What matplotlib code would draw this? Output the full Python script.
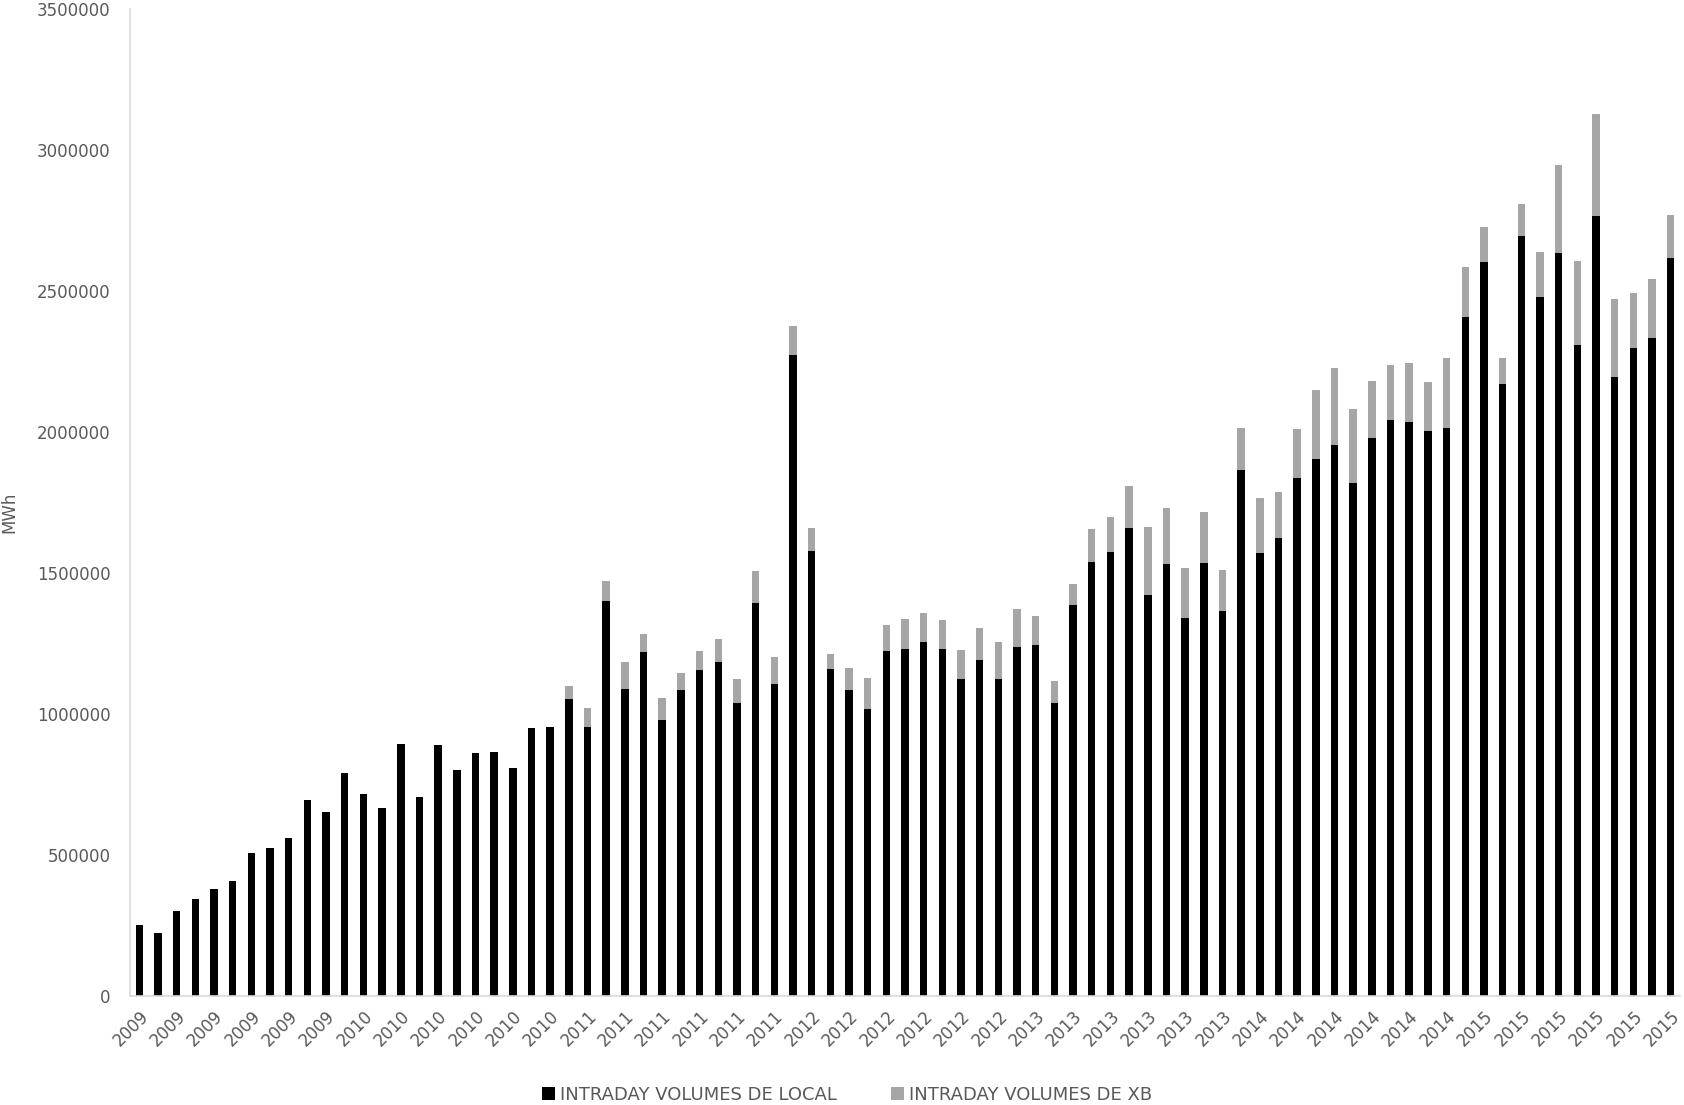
import numpy as np
import matplotlib.pyplot as plt

# monthly intraday volumes, Jan 2009 - Nov 2015 (MWh)
years = [2009] * 12 + [2010] * 12 + [2011] * 12 + [2012] * 12 + [2013] * 12 + [2014] * 12 + [2015] * 11

local_mwh = [
    252000, 223000, 300000, 344000, 381000, 408000, 508000, 525000, 560000, 696000, 652000, 791000,
    716000, 667000, 895000, 707000, 891000, 800000, 862000, 864000, 807000, 951000, 954000, 1054000,
    953000, 1401000, 1090000, 1219000, 978000, 1085000, 1157000, 1183000, 1038000, 1395000, 1106000, 2272000,
    1579000, 1159000, 1085000, 1018000, 1223000, 1231000, 1256000, 1231000, 1123000, 1191000, 1125000, 1236000,
    1246000, 1039000, 1386000, 1538000, 1575000, 1659000, 1421000, 1532000, 1339000, 1536000, 1364000, 1867000,
    1570000, 1624000, 1836000, 1904000, 1955000, 1820000, 1978000, 2044000, 2034000, 2002000, 2014000, 2408000,
    2604000, 2170000, 2696000, 2479000, 2634000, 2308000, 2767000, 2196000, 2298000, 2333000, 2618000,
]

xb_mwh = [
    0, 0, 0, 0, 0, 0, 0, 0, 0, 0, 0, 0,
    0, 0, 0, 0, 0, 0, 0, 0, 0, 0, 0, 45000,
    67000, 71000, 93000, 65000, 79000, 60000, 66000, 84000, 86000, 112000, 96000, 103000,
    82000, 55000, 77000, 110000, 93000, 106000, 102000, 101000, 103000, 113000, 130000, 135000,
    100000, 79000, 75000, 118000, 122000, 149000, 242000, 199000, 177000, 179000, 145000, 146000,
    197000, 162000, 173000, 245000, 273000, 260000, 203000, 192000, 211000, 175000, 248000, 176000,
    122000, 92000, 111000, 159000, 314000, 298000, 361000, 276000, 194000, 211000, 152000,
]

txt = '#595959'
axis_col = '#d9d9d9'

fig = plt.figure(figsize=(16.84, 11.05), dpi=100)
ax = fig.add_axes([130 / 1684, 109 / 1105, 1550 / 1684, 987 / 1105])

x = np.arange(len(local_mwh))
ax.bar(x, local_mwh, width=0.4, color='#000000', label='INTRADAY VOLUMES DE LOCAL')
ax.bar(x, xb_mwh, width=0.4, bottom=local_mwh, color='#a6a6a6', label='INTRADAY VOLUMES DE XB')

ax.set_xlim(-0.5, len(local_mwh) - 0.5)
ax.set_ylim(0, 3500000)
ax.set_yticks(np.arange(0, 3500001, 500000))
ax.set_yticklabels([str(v) for v in range(0, 3500001, 500000)])

ax.set_xticks(x[::2])
ax.set_xticklabels([str(y) for y in years[::2]], rotation=45, ha='right',
                   rotation_mode='anchor')

ax.tick_params(axis='y', length=0, pad=14, labelsize=12, labelcolor=txt)
ax.tick_params(axis='x', length=0, pad=8, labelsize=12, labelcolor=txt)

for s in ['top', 'right']:
    ax.spines[s].set_visible(False)
for s in ['left', 'bottom']:
    ax.spines[s].set_color(axis_col)
    ax.spines[s].set_linewidth(1.2)

ax.set_ylabel('MWh', color=txt, fontsize=12)
ax.yaxis.set_label_coords(-0.072, 0.49)

leg = fig.legend(loc='center', bbox_to_anchor=(0.503, 10 / 1105), ncol=2, frameon=False,
                 fontsize=13, handlelength=0.7, handleheight=0.7, handletextpad=0.3,
                 columnspacing=3.0)
for t in leg.get_texts():
    t.set_color(txt)

fig.savefig('out.png', dpi=100)
